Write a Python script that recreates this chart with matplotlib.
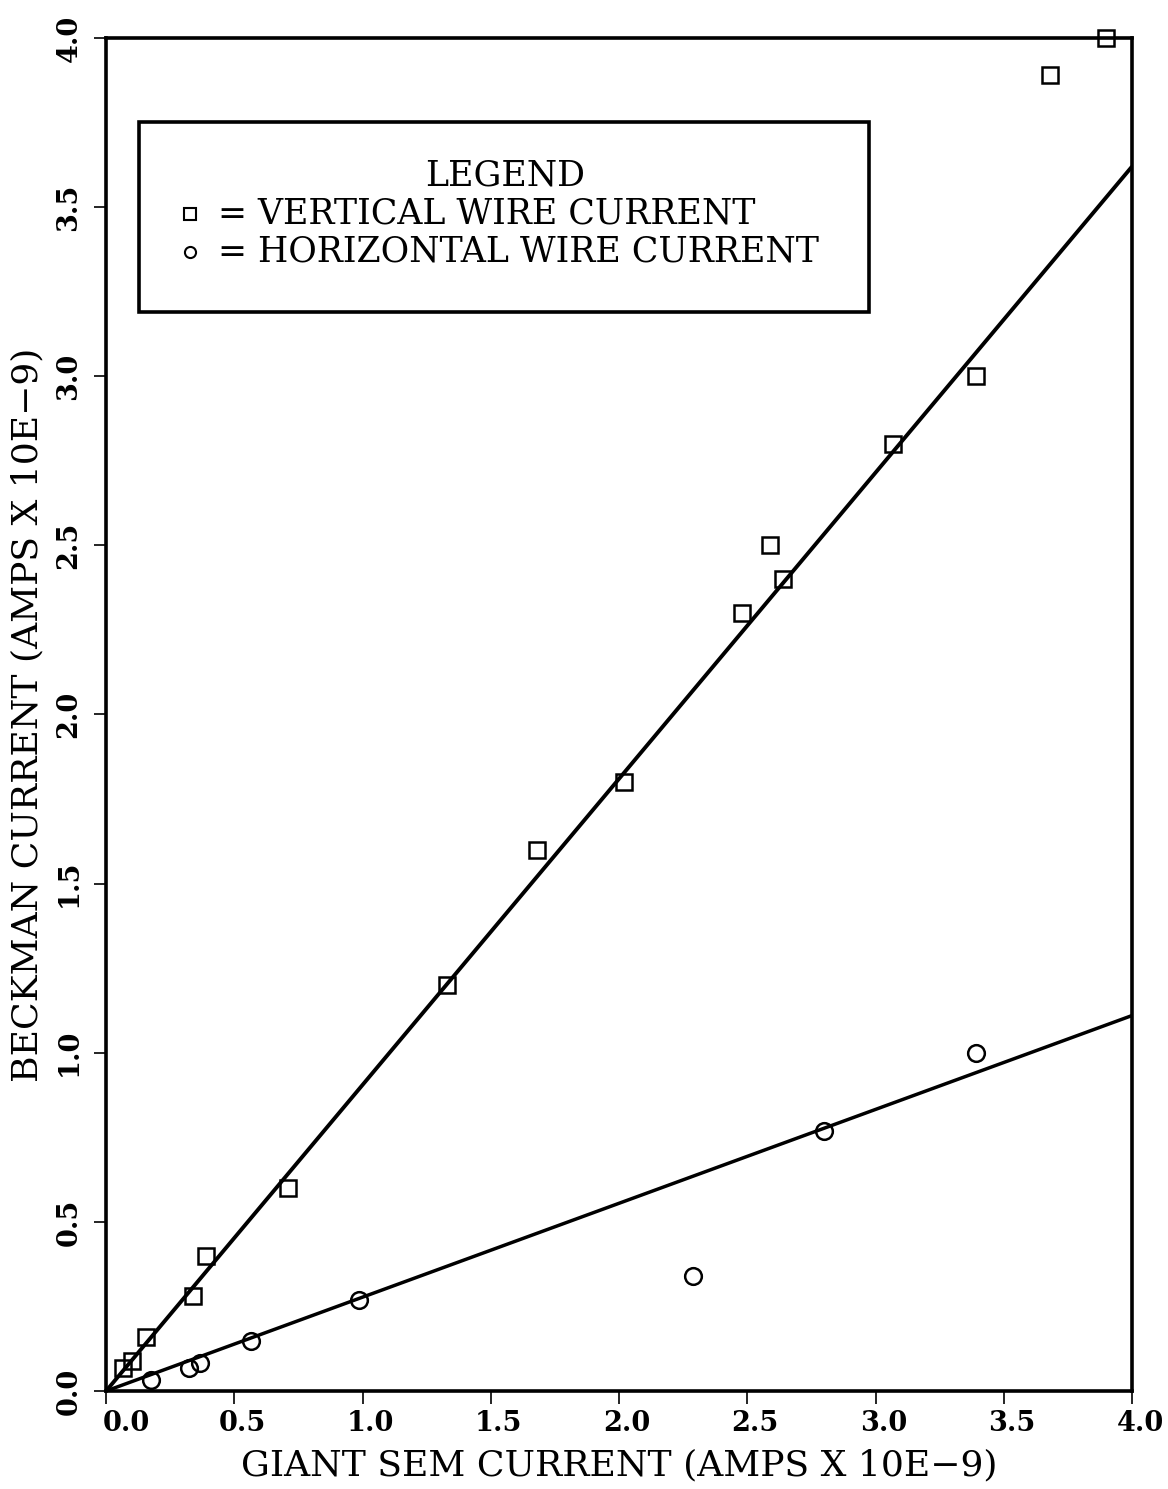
import matplotlib
matplotlib.use("Agg")
import matplotlib.pyplot as plt
from matplotlib.patches import Rectangle
from matplotlib.transforms import ScaledTranslation

# data (amps x 1e-9)
vertical_x = [0.067, 0.10, 0.155, 0.34, 0.39, 0.71, 1.33, 1.68, 2.02, 2.48, 2.59, 2.64, 3.07, 3.39, 3.68, 3.90]
vertical_y = [0.067, 0.088, 0.16, 0.28, 0.40, 0.60, 1.20, 1.60, 1.80, 2.30, 2.50, 2.40, 2.80, 3.00, 3.89, 4.00]

horizontal_x = [0.174, 0.323, 0.366, 0.567, 0.985, 2.29, 2.80, 3.39]
horizontal_y = [0.032, 0.067, 0.082, 0.148, 0.268, 0.34, 0.77, 1.00]

# fitted lines, end points
fit_x = [0.0, 4.0]
vertical_fit_y = [0.0, 3.62]
horizontal_fit_y = [0.0, 1.11]

ticks = [0.0, 0.5, 1.0, 1.5, 2.0, 2.5, 3.0, 3.5, 4.0]
tick_labels = ["0.0", "0.5", "1.0", "1.5", "2.0", "2.5", "3.0", "3.5", "4.0"]

plt.rcParams['font.family'] = ['DejaVu Serif', 'DejaVu Sans']

fig = plt.figure(figsize=(11.68, 14.89), dpi=100)
ax = fig.add_axes([0.0908, 0.0658, 0.8784, 0.9087])

ax.plot(fit_x, vertical_fit_y, color='black', lw=2.8, solid_capstyle='butt')
ax.plot(fit_x, horizontal_fit_y, color='black', lw=2.5, solid_capstyle='butt')

ax.plot(vertical_x, vertical_y, ls='none', marker='s', ms=11, mfc='none',
        mec='black', mew=1.8, clip_on=False)
ax.plot(horizontal_x, horizontal_y, ls='none', marker='o', ms=12, mfc='none',
        mec='black', mew=1.8, clip_on=False)

ax.set_xlim(0, 4)
ax.set_ylim(0, 4)

for side in ['left', 'right', 'top', 'bottom']:
    ax.spines[side].set_linewidth(2.6)

ax.set_xticks(ticks)
ax.set_xticklabels(tick_labels, fontsize=19.5, fontweight='bold')
ax.set_yticks(ticks)
ax.set_yticklabels(tick_labels, fontsize=19.5, fontweight='bold', rotation=90, va='center')
ax.tick_params(axis='x', direction='out', length=9, width=1.2, pad=5)
ax.tick_params(axis='y', direction='out', length=9, width=1.2, pad=8)

# x tick labels sit a little right of their ticks in the original
for i, lab in enumerate(ax.get_xticklabels()):
    dx = 20 if i == 0 else 8
    lab.set_transform(lab.get_transform() + ScaledTranslation(dx / 100, 0, fig.dpi_scale_trans))

ax.set_xlabel('GIANT SEM CURRENT (AMPS X 10E\u22129)', fontsize=26, labelpad=8)
ax.set_ylabel('BECKMAN CURRENT (AMPS X 10E\u22129)', fontsize=26, labelpad=8)

# legend box drawn by hand
ax.add_patch(Rectangle((0.032, 0.7975), 0.712, 0.1405, transform=ax.transAxes,
                       fill=False, lw=2.6, ec='black'))
ax.text(0.389, 0.898, 'LEGEND', transform=ax.transAxes, fontsize=25,
        ha='center', va='center')
ax.plot([0.082], [0.870], transform=ax.transAxes, marker='s', ms=8, mfc='none',
        mec='black', mew=1.5, ls='none')
ax.text(0.109, 0.870, '= VERTICAL WIRE CURRENT', transform=ax.transAxes,
        fontsize=25, ha='left', va='center')
ax.plot([0.082], [0.842], transform=ax.transAxes, marker='o', ms=8, mfc='none',
        mec='black', mew=1.5, ls='none')
ax.text(0.109, 0.842, '= HORIZONTAL WIRE CURRENT', transform=ax.transAxes,
        fontsize=25, ha='left', va='center')

fig.savefig('out.png', dpi=100)
